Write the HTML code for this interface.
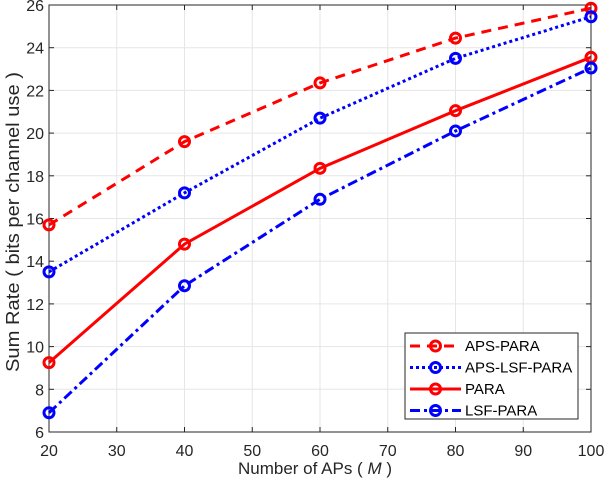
<!DOCTYPE html>
<html><head><meta charset="utf-8"><style>
body{margin:0;background:#fff;}
svg{display:block;font-family:"Liberation Sans",sans-serif;}
</style></head><body>
<svg id="chart" width="606" height="486">
<rect x="0" y="0" width="606" height="486" fill="#fff"/>
<g id="grid"></g>
<rect x="49" y="5" width="542" height="427" fill="none" stroke="#262626" stroke-width="1"/>
<g id="ticks"></g>
<g id="series"></g>
<text x="315" y="474" font-size="17" text-anchor="middle" fill="#262626">Number of APs ( <tspan font-style="italic">M</tspan> )</text>
<text x="0" y="0" font-size="18" text-anchor="middle" fill="#262626" textLength="300" lengthAdjust="spacingAndGlyphs" transform="translate(19,222) rotate(-90)">Sum Rate ( bits per channel use )</text>
<g id="legend"></g>
</svg>
<script>
const xValues=[20,40,60,80,100];
const apsPara=[15.7,19.6,22.35,24.45,25.85];
const apsLsfPara=[13.5,17.2,20.7,23.5,25.45];
const para=[9.25,14.8,18.35,21.05,23.55];
const lsfPara=[6.9,12.85,16.9,20.1,23.05];
const xTicks=[20,30,40,50,60,70,80,90,100];
const yTicks=[6,8,10,12,14,16,18,20,22,24,26];
const NS='http://www.w3.org/2000/svg';
const X0=49,X1=591,Y0=432,Y1=5;
const xs=v=>X0+(v-20)/80*(X1-X0);
const ys=v=>Y0-(v-6)/20*(Y0-Y1);
function mk(t,a,p){const e=document.createElementNS(NS,t);for(const k in a)e.setAttribute(k,a[k]);p.appendChild(e);return e;}
const grid=document.getElementById('grid'),ticks=document.getElementById('ticks');
xTicks.forEach(v=>{const x=xs(v);
 const g=mk('line',{x1:x,x2:x,y1:Y1,y2:Y0,stroke:'#e6e6e6'},grid);
 
 mk('line',{x1:x,x2:x,y1:Y0,y2:Y0-5,stroke:'#262626'},ticks);
 mk('line',{x1:x,x2:x,y1:Y1,y2:Y1+5,stroke:'#262626'},ticks);
 const t=mk('text',{x:x,y:Y0+24,'font-size':16,'text-anchor':'middle',fill:'#262626'},ticks);t.textContent=v;
 });
yTicks.forEach(v=>{const y=ys(v);
 const g=mk('line',{x1:X0,x2:X1,y1:y,y2:y,stroke:'#e6e6e6'},grid);
 
 mk('line',{x1:X0,x2:X0+5,y1:y,y2:y,stroke:'#262626'},ticks);
 mk('line',{x1:X1,x2:X1-5,y1:y,y2:y,stroke:'#262626'},ticks);
 const t=mk('text',{x:X0-5,y:y+6,'font-size':16,'text-anchor':'end',fill:'#262626'},ticks);t.textContent=v;
 });
const defs=[
 {name:'APS-PARA',data:apsPara,color:'#ff0000',dash:'10,7'},
 {name:'APS-LSF-PARA',data:apsLsfPara,color:'#0000ff',dash:'3,3'},
 {name:'PARA',data:para,color:'#ff0000',dash:''},
 {name:'LSF-PARA',data:lsfPara,color:'#0000ff',dash:'10,4,3,4'}];
const sg=document.getElementById('series');
defs.forEach(d=>{
 const g=mk('g',{},sg);
 
 
 const pl=mk('polyline',{points:d.data.map((v,i)=>xs(xValues[i])+','+ys(v)).join(' '),fill:'none',stroke:d.color,'stroke-width':3,'stroke-dasharray':d.dash},g);
 
 d.data.forEach((v,i)=>{const c=mk('circle',{cx:xs(xValues[i]),cy:ys(v),r:5,fill:'none',stroke:d.color,'stroke-width':3},g);
  });
});
const lg=document.getElementById('legend');
mk('rect',{x:405,y:333,width:173,height:86,fill:'#fff',stroke:'#262626'},lg);
defs.forEach((d,i)=>{const y=346+i*21.5;
 mk('line',{x1:410,x2:461,y1:y,y2:y,stroke:d.color,'stroke-width':3,'stroke-dasharray':d.dash},lg);
 mk('circle',{cx:435.5,cy:y,r:5,fill:'none',stroke:d.color,'stroke-width':3},lg);
 const t=mk('text',{x:465,y:y+5,'font-size':15,fill:'#000'},lg);t.textContent=d.name;
 });
</script>
</body></html>
